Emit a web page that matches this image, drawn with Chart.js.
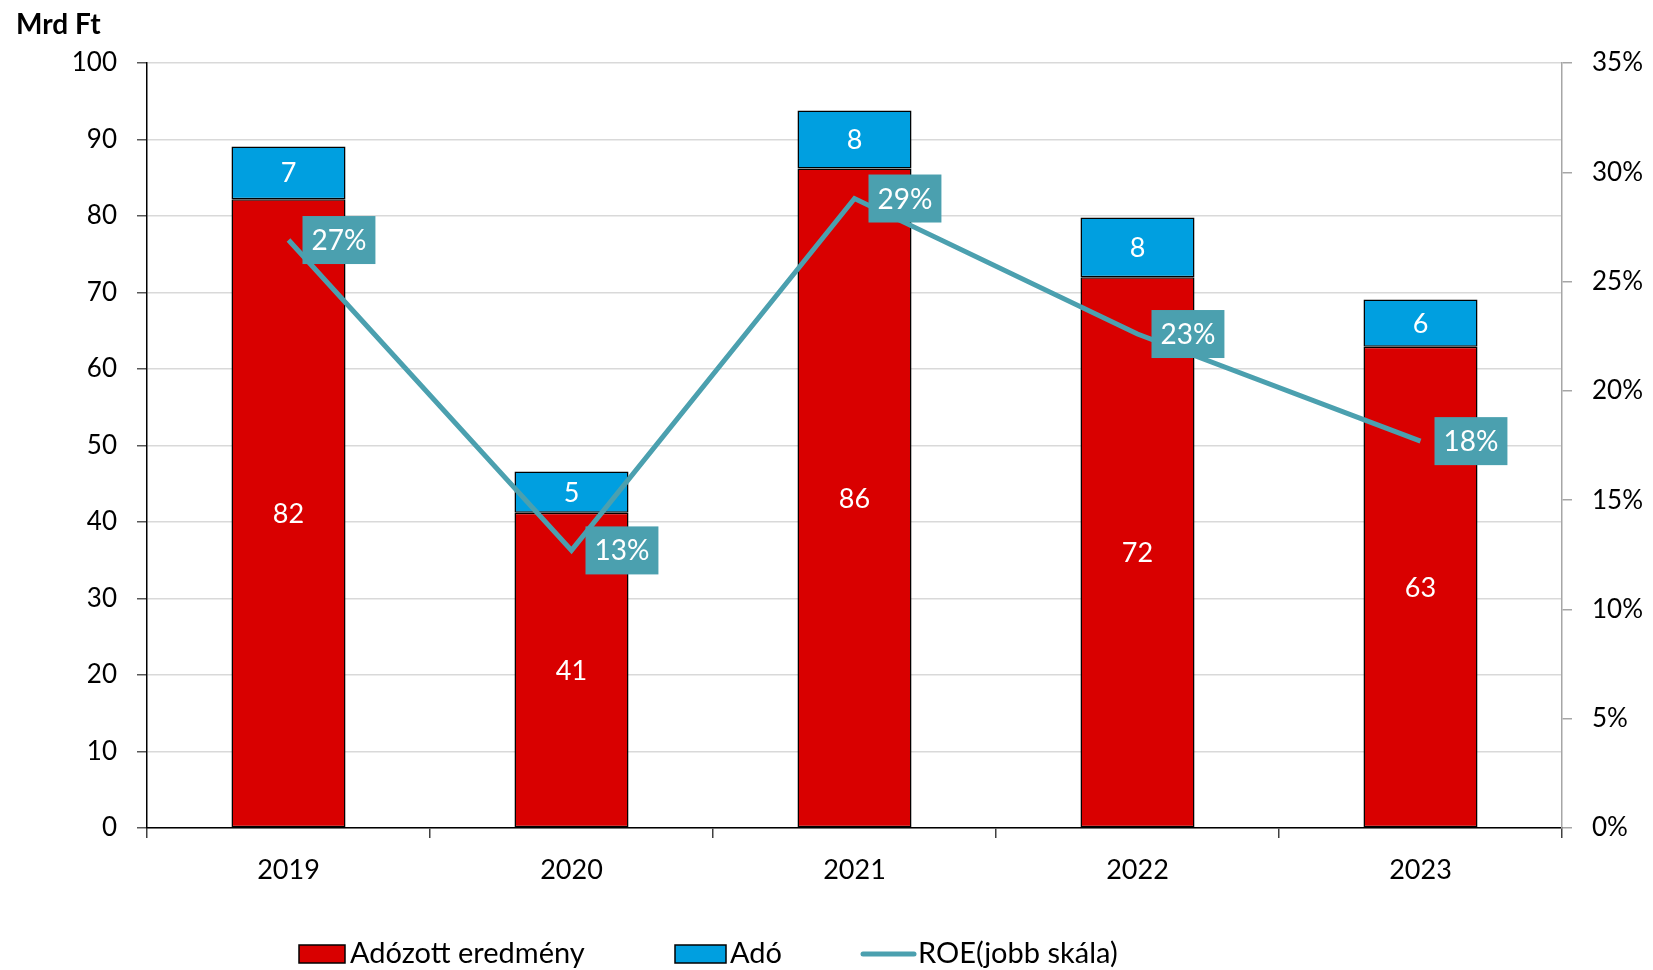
<!DOCTYPE html>
<html>
<head>
<meta charset="utf-8">
<script src="https://cdn.jsdelivr.net/npm/chart.js@4"></script>
<style>
    body { margin: 0; background: #fff; }
    #wrap { width: 1653px; height: 970px; position: relative; }
</style>
</head>
<body>
<div id="wrap"><canvas id="roeChart"></canvas></div>
<script>
// Data
const years = ['2019', '2020', '2021', '2022', '2023'];
const adozottEredmeny = [82.2, 41.2, 86.2, 72.0, 62.9];
const ado = [6.9, 5.4, 7.6, 7.8, 6.2];
const roe = [26.9, 12.7, 28.8, 22.6, 17.7];

const FONT = 'Lato, "Open Sans", sans-serif';
const RED = '#D90000';
const BLUE = '#009FE0';
const TEAL = '#4BA0AF';

// White labels inside the bars, boxed labels next to the ROE points
const valueLabels = {
    id: 'valueLabels',
    afterDatasetsDraw(chart) {
        const ctx = chart.ctx;
        ctx.save();
        chart.data.datasets.forEach((ds, i) => {
            const meta = chart.getDatasetMeta(i);
            meta.data.forEach((el, j) => {
                const v = ds.data[j];
                if (ds.type === 'line') {
                    const text = Math.round(v) + '%';
                    ctx.font = '28px ' + FONT;
                    const w = ctx.measureText(text).width + 18;
                    const h = 48;
                    const left = el.x + 14;
                    const top = el.y - h / 2;
                    ctx.fillStyle = TEAL;
                    ctx.fillRect(left, top, w, h);
                    ctx.fillStyle = '#fff';
                    ctx.textAlign = 'center';
                    ctx.textBaseline = 'middle';
                    ctx.fillText(text, left + w / 2, el.y + 1);
                } else {
                    ctx.font = '27px ' + FONT;
                    ctx.fillStyle = '#fff';
                    ctx.textAlign = 'center';
                    ctx.textBaseline = 'middle';
                    ctx.fillText(String(Math.round(v)), el.x, (el.y + el.base) / 2 + 1);
                }
            });
        });
        ctx.restore();
    }
};

// Axis unit title and the bottom legend
const extras = {
    id: 'extras',
    afterDraw(chart) {
        const ctx = chart.ctx;
        ctx.save();
        ctx.fillStyle = '#000';
        ctx.font = 'bold 28px ' + FONT;
        ctx.textAlign = 'left';
        ctx.textBaseline = 'alphabetic';
        ctx.fillText('Mrd Ft', 16, 34);

        const y = 954;
        ctx.font = '29px ' + FONT;
        ctx.textBaseline = 'middle';
        // red box
        ctx.fillStyle = RED;
        ctx.fillRect(299, 945, 46, 18);
        ctx.strokeStyle = '#000';
        ctx.lineWidth = 1.5;
        ctx.strokeRect(299, 945, 46, 18);
        ctx.fillStyle = '#000';
        ctx.fillText('Adózott eredmény', 350, y);
        // blue box
        ctx.fillStyle = BLUE;
        ctx.fillRect(675, 945, 51, 18);
        ctx.strokeRect(675, 945, 51, 18);
        ctx.fillStyle = '#000';
        ctx.fillText('Adó', 730, y);
        // line
        ctx.strokeStyle = TEAL;
        ctx.lineWidth = 5;
        ctx.lineCap = 'round';
        ctx.beginPath();
        ctx.moveTo(863, y);
        ctx.lineTo(914, y);
        ctx.stroke();
        ctx.fillText('ROE(jobb skála)', 918, y);
        ctx.restore();
    }
};

const ctx = document.getElementById('roeChart').getContext('2d');
new Chart(ctx, {
    type: 'bar',
    data: {
        labels: years,
        datasets: [
            {
                label: 'Adózott eredmény',
                data: adozottEredmeny,
                backgroundColor: RED,
                borderColor: '#000',
                borderWidth: 1.5,
                borderSkipped: false,
                barPercentage: 0.403,
                categoryPercentage: 1,
                yAxisID: 'y',
                order: 1
            },
            {
                label: 'Adó',
                data: ado,
                backgroundColor: BLUE,
                borderColor: '#000',
                borderWidth: 1.5,
                borderSkipped: false,
                barPercentage: 0.403,
                categoryPercentage: 1,
                yAxisID: 'y',
                order: 2
            },
            {
                type: 'line',
                label: 'ROE(jobb skála)',
                data: roe,
                borderColor: TEAL,
                borderWidth: 5,
                pointRadius: 0,
                tension: 0,
                yAxisID: 'y1',
                order: 0
            }
        ]
    },
    options: {
        responsive: true,
        maintainAspectRatio: false,
        animation: false,
        layout: { padding: { top: 63, left: 0, right: 0, bottom: 0 } },
        plugins: {
            legend: { display: false },
            tooltip: { enabled: false }
        },
        scales: {
            x: {
                stacked: true,
                offset: true,
                grid: {
                    offset: true,
                    drawOnChartArea: false,
                    tickLength: 10,
                    tickColor: '#404040',
                    lineWidth: 1.5
                },
                border: { color: '#000', width: 1.5 },
                ticks: {
                    color: '#000',
                    font: { family: FONT, size: 27 },
                    padding: 16
                },
                afterFit: (s) => { s.height = 142; }
            },
            y: {
                stacked: true,
                position: 'left',
                min: 0,
                max: 100,
                ticks: {
                    stepSize: 10,
                    color: '#000',
                    font: { family: FONT, size: 26 },
                    padding: 20
                },
                grid: {
                    color: '#d9d9d9',
                    lineWidth: 1.5,
                    tickLength: 10,
                    tickColor: '#595959'
                },
                border: { color: '#000', width: 1.5 },
                afterFit: (s) => { s.width = 147; }
            },
            y1: {
                position: 'right',
                min: 0,
                max: 35,
                ticks: {
                    stepSize: 5,
                    color: '#000',
                    font: { family: FONT, size: 26 },
                    padding: 20,
                    callback: (v) => v + '%'
                },
                grid: {
                    drawOnChartArea: false,
                    tickLength: 10,
                    tickColor: '#a6a6a6',
                    lineWidth: 1.5
                },
                border: { color: '#a6a6a6', width: 1.5 },
                afterFit: (s) => { s.width = 91; }
            }
        }
    },
    plugins: [valueLabels, extras]
});
</script>
</body>
</html>
